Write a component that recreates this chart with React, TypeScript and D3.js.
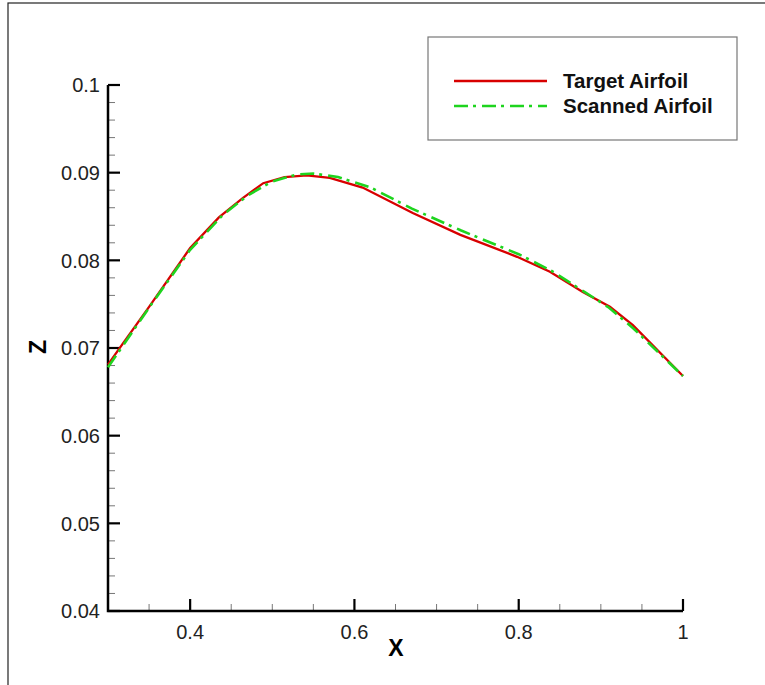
import { useEffect, useRef } from 'react';
import * as d3 from 'd3';

// Target airfoil (upper surface, rear part)
const targetX = [0.3, 0.315, 0.35, 0.4, 0.435, 0.464, 0.489, 0.515, 0.542, 0.57, 0.61, 0.671, 0.729, 0.798, 0.838, 0.878, 0.911, 0.939, 1.0];
const targetZ = [0.0681, 0.0701, 0.0747, 0.0814, 0.0849, 0.0871, 0.0888, 0.0895, 0.0897, 0.0894, 0.0883, 0.0854, 0.0829, 0.0804, 0.0787, 0.0764, 0.0747, 0.0726, 0.0668];

// Scanned airfoil
const scannedX = [0.3, 0.35, 0.4, 0.44, 0.47, 0.5, 0.53, 0.55, 0.58, 0.62, 0.67, 0.73, 0.8, 0.84, 0.88, 0.91, 0.94, 1.0];
const scannedZ = [0.0678, 0.0746, 0.0812, 0.0852, 0.0874, 0.089, 0.0898, 0.0899, 0.0895, 0.0883, 0.0859, 0.0834, 0.0807, 0.0788, 0.0764, 0.0746, 0.0722, 0.0668];

const xTicks = [0.4, 0.6, 0.8, 1];
const zTicks = [0.04, 0.05, 0.06, 0.07, 0.08, 0.09, 0.1];

const seriesNames = ['Target Airfoil', 'Scanned Airfoil'];

export default function App() {
  const svgRef = useRef<SVGSVGElement | null>(null);

  useEffect(() => {
    if (!svgRef.current) return;
    const svg = d3.select(svgRef.current);
    svg.selectAll('*').remove();

    const font = 'Arial, "Liberation Sans", sans-serif';
    const left = 108, right = 683, top = 85, bottom = 611;

    const x = d3.scaleLinear().domain([0.3, 1]).range([left, right]);
    const y = d3.scaleLinear().domain([0.04, 0.1]).range([bottom, top]);

    // outer frame
    svg.append('rect')
      .attr('x', 8).attr('y', 3)
      .attr('width', 800).attr('height', 720)
      .attr('fill', 'none').attr('stroke', '#222').attr('stroke-width', 1.2);

    // minor ticks
    const xMinor = d3.range(0.35, 1.0001, 0.05).filter(v => !xTicks.some(t => Math.abs(t - v) < 1e-6));
    svg.append('g').selectAll('line').data(xMinor).join('line')
      .attr('x1', d => x(d)).attr('x2', d => x(d))
      .attr('y1', bottom).attr('y2', bottom - 7)
      .attr('stroke', '#777').attr('stroke-width', 1);

    const zMinor = d3.range(0.042, 0.1, 0.002).filter(v => !zTicks.some(t => Math.abs(t - v) < 1e-6));
    svg.append('g').selectAll('line').data(zMinor).join('line')
      .attr('x1', left).attr('x2', left + 7)
      .attr('y1', d => y(d)).attr('y2', d => y(d))
      .attr('stroke', '#777').attr('stroke-width', 1);

    // major ticks
    svg.append('g').selectAll('line').data(xTicks).join('line')
      .attr('x1', d => x(d)).attr('x2', d => x(d))
      .attr('y1', bottom).attr('y2', bottom - 12)
      .attr('stroke', '#000').attr('stroke-width', 2.2);
    svg.append('g').selectAll('line').data(zTicks).join('line')
      .attr('x1', left).attr('x2', left + 12)
      .attr('y1', d => y(d)).attr('y2', d => y(d))
      .attr('stroke', '#000').attr('stroke-width', 2.2);

    // axis lines
    svg.append('path')
      .attr('d', `M${left},${top} L${left},${bottom} L${right},${bottom}`)
      .attr('fill', 'none').attr('stroke', '#000').attr('stroke-width', 2.5);

    // tick labels
    svg.append('g').selectAll('text').data(xTicks).join('text')
      .attr('x', d => x(d)).attr('y', bottom + 28)
      .attr('text-anchor', 'middle')
      .attr('font-family', font).attr('font-size', 20).attr('fill', '#222')
      .text(d => String(d));
    svg.append('g').selectAll('text').data(zTicks).join('text')
      .attr('x', left - 8).attr('y', d => y(d))
      .attr('dy', '0.36em')
      .attr('text-anchor', 'end')
      .attr('font-family', font).attr('font-size', 20).attr('fill', '#222')
      .text(d => String(d));

    // axis titles
    svg.append('text')
      .attr('x', 396).attr('y', 656)
      .attr('text-anchor', 'middle')
      .attr('font-family', font).attr('font-size', 23).attr('font-weight', 'bold')
      .text('X');
    svg.append('text')
      .attr('transform', 'translate(46,347) rotate(-90)')
      .attr('text-anchor', 'middle')
      .attr('font-family', font).attr('font-size', 23).attr('font-weight', 'bold')
      .text('Z');

    const line = d3.line<[number, number]>().x(d => x(d[0])).y(d => y(d[1]));

    const target = targetX.map((v, i) => [v, targetZ[i]] as [number, number]);
    const scanned = scannedX.map((v, i) => [v, scannedZ[i]] as [number, number]);

    svg.append('path').datum(target)
      .attr('d', line).attr('fill', 'none')
      .attr('stroke', '#d80000').attr('stroke-width', 2.3);
    svg.append('path').datum(scanned)
      .attr('d', line).attr('fill', 'none')
      .attr('stroke', '#1ed41e').attr('stroke-width', 2.6)
      .attr('stroke-dasharray', '14 5 3 6');

    // legend
    const lg = svg.append('g');
    lg.append('rect')
      .attr('x', 428).attr('y', 37).attr('width', 309).attr('height', 103)
      .attr('fill', '#fff').attr('stroke', '#777').attr('stroke-width', 1.2);
    const legendY = [81, 106];
    const styles = [
      { stroke: '#d80000', width: 2.3, dash: null },
      { stroke: '#1ed41e', width: 2.6, dash: '14 5 3 6' },
    ];
    seriesNames.forEach((name, i) => {
      lg.append('line')
        .attr('x1', 454).attr('x2', 547)
        .attr('y1', legendY[i]).attr('y2', legendY[i])
        .attr('stroke', styles[i].stroke).attr('stroke-width', styles[i].width)
        .attr('stroke-dasharray', styles[i].dash);
      lg.append('text')
        .attr('x', 563).attr('y', legendY[i]).attr('dy', '0.36em')
        .attr('font-family', font).attr('font-size', 20.5).attr('font-weight', 'bold')
        .attr('fill', '#111')
        .text(name);
    });
  }, []);

  return (
    <div style={{ position: 'absolute', left: 0, top: 0, width: 765, height: 685, overflow: 'hidden', background: '#fff' }}>
      <svg ref={svgRef} width={765} height={685}></svg>
    </div>
  );
}
